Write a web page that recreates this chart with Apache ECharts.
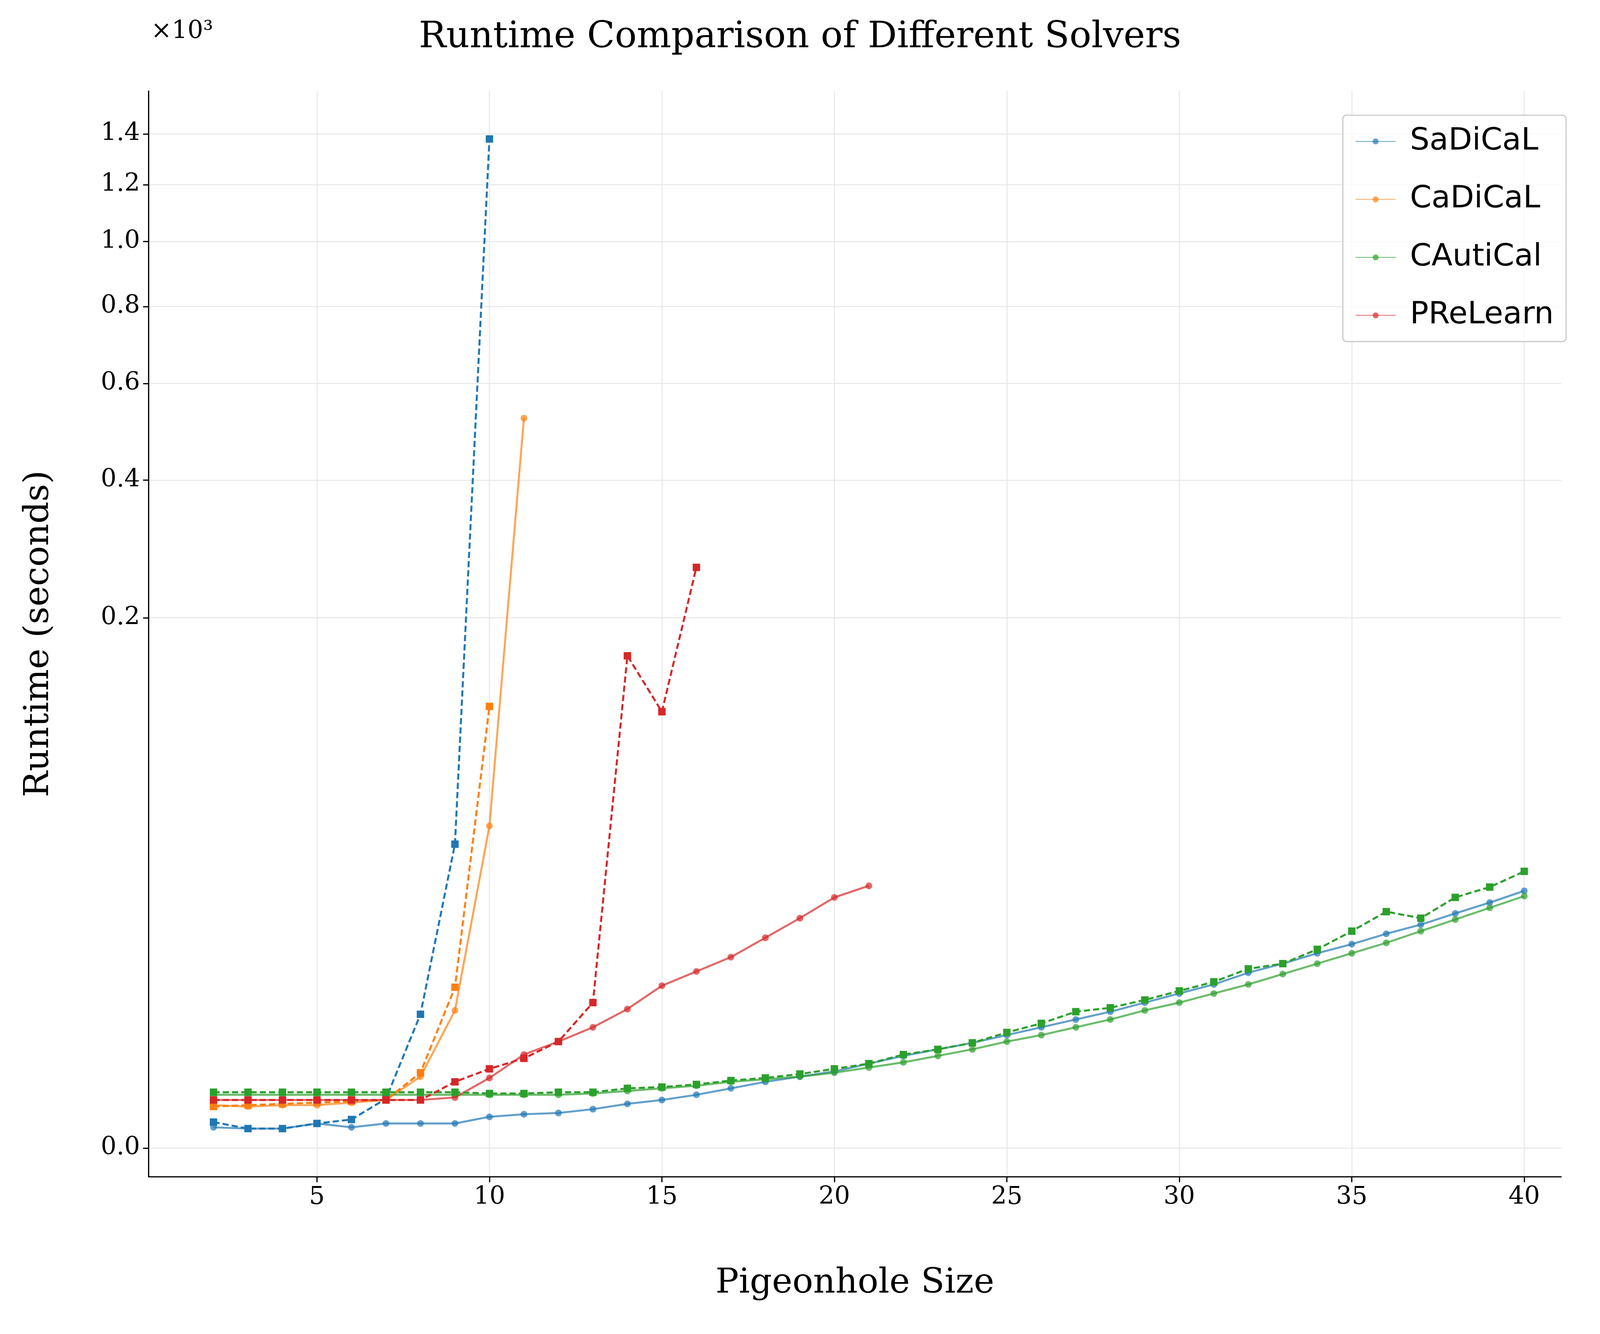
<!DOCTYPE html>
<html>
<head>
<meta charset="utf-8">
<script src="https://cdn.jsdelivr.net/npm/echarts@6/dist/echarts.min.js"></script>
<style>html,body{margin:0;padding:0;background:#fff;overflow:hidden}#main{width:100vw;height:100vh}</style>
</head>
<body>
<div id="main"></div>
<script>
// runtimes in seconds (pigeonhole size starts at 2)
const sadicalSolid = [0.012, 0.0099, 0.0099, 0.020, 0.012, 0.020, 0.020, 0.020, 0.041, 0.052, 0.058, 0.079, 0.116, 0.149, 0.203, 0.286, 0.390, 0.489, 0.604, 0.808, 1.052, 1.291, 1.563, 1.936, 2.365, 2.853, 3.404, 4.131, 4.955, 5.882, 7.235, 8.42, 9.92, 11.38, 13.21, 14.96, 17.34, 19.85, 22.83];
const sadicalDash = [0.0235, 0.0099, 0.0099, 0.020, 0.0313, 0.161, 3.213, 37.68, 1379];
const cadicalSolid = [0.106, 0.096, 0.106, 0.106, 0.126, 0.149, 0.489, 3.50, 44.85, 522];
const cadicalDash = [0.096, 0.106, 0.116, 0.126, 0.137, 0.149, 0.574, 5.58, 115.6];
const cauticalSolid = [0.203, 0.203, 0.203, 0.203, 0.203, 0.203, 0.203, 0.203, 0.203, 0.203, 0.203, 0.218, 0.250, 0.286, 0.325, 0.390, 0.438, 0.489, 0.574, 0.701, 0.845, 1.052, 1.291, 1.621, 1.936, 2.365, 2.853, 3.502, 4.131, 4.955, 5.882, 7.075, 8.419, 9.924, 11.60, 13.70, 16.03, 18.62, 21.47];
const cauticalDash = [0.234, 0.234, 0.234, 0.234, 0.234, 0.234, 0.234, 0.234, 0.218, 0.218, 0.234, 0.234, 0.286, 0.305, 0.346, 0.413, 0.463, 0.545, 0.667, 0.808, 1.097, 1.291, 1.563, 2.073, 2.602, 3.404, 3.704, 4.357, 5.209, 6.167, 7.728, 8.419, 10.53, 13.70, 17.73, 16.31, 21.14, 23.86, 28.43];
const prelearnSolid = [0.149, 0.149, 0.149, 0.149, 0.149, 0.149, 0.149, 0.174, 0.463, 1.097, 1.621, 2.365, 3.603, 5.744, 7.396, 9.34, 12.49, 16.31, 21.14, 24.21];
const prelearnDash = [0.149, 0.149, 0.149, 0.149, 0.149, 0.149, 0.149, 0.390, 0.667, 0.969, 1.621, 4.131, 160.1, 111.5, 262.8];

const yTicks = [0, 200, 400, 600, 800, 1000, 1200, 1400];
const xTicks = [5, 10, 15, 20, 25, 30, 35, 40];

const colors = ['#1f77b4', '#ff7f0e', '#2ca02c', '#d62728'];
const serif = 'DejaVu Serif';

// everything is laid out for 5188x3416 and scaled to the real window
const W = window.innerWidth, H = window.innerHeight;
const s = W / 5188, sy = H / 3416;
const px = (v) => v * s;

// y axis is cube-root scaled
const toData = (vals) => vals.map((v, i) => [i + 2, Math.cbrt(v)]);

function makeSeries(name, vals, color, dashed) {
  return {
    name: name,
    type: 'line',
    data: toData(vals),
    symbol: dashed ? 'rect' : 'circle',
    symbolSize: px(dashed ? 24 : 22),
    z: dashed ? 3 : 2,
    itemStyle: { color: color, opacity: dashed ? 1 : 0.7 },
    lineStyle: { color: color, width: px(6.5), type: dashed ? [px(20), px(10)] : 'solid', opacity: dashed ? 1 : 0.7 },
    emphasis: { disabled: true },
    animation: false
  };
}

const chart = echarts.init(document.getElementById('main'));
chart.setOption({
  backgroundColor: '#fff',
  animation: false,
  title: {
    text: 'Runtime Comparison of Different Solvers',
    left: 'center', top: 45 * sy,
    textStyle: { fontFamily: serif, fontSize: px(118), fontWeight: 'normal', color: '#000' }
  },
  graphic: [{
    type: 'text', left: px(490), top: 50 * sy,
    style: { text: '×10³', font: px(80) + 'px "DejaVu Serif"', fill: '#000' }
  }],
  legend: {
    data: ['SaDiCaL', 'CaDiCaL', 'CAutiCal', 'PReLearn'],
    orient: 'vertical', right: px(110), top: 295 * sy,
    padding: [px(35), px(40), px(35), px(40)],
    itemGap: px(88), itemWidth: px(130), itemHeight: px(24),
    backgroundColor: 'rgba(255,255,255,0.8)', borderColor: '#ccc', borderWidth: px(4), borderRadius: px(12),
    textStyle: { fontFamily: 'DejaVu Sans', fontSize: px(100), color: '#000', padding: [0, 0, 0, px(40)] }
  },
  grid: { left: px(482), right: px(126), top: 233 * sy, bottom: 403 * sy },
  xAxis: {
    type: 'value', min: 0.12, max: 41.07,
    name: 'Pigeonhole Size', nameLocation: 'middle', nameGap: 230 * sy,
    nameTextStyle: { fontFamily: serif, fontSize: px(112), color: '#000' },
    axisLine: { onZero: false, lineStyle: { color: '#000', width: px(4) } },
    axisTick: { customValues: xTicks, length: px(18), lineStyle: { color: '#000', width: px(4) } },
    axisLabel: { customValues: xTicks, fontFamily: serif, fontSize: px(80), color: '#000', margin: px(28) },
    splitLine: { show: true, lineStyle: { color: '#e6e6e6', width: px(3) } }
  },
  yAxis: {
    type: 'value', min: -0.315, max: 11.66,
    name: 'Runtime (seconds)', nameLocation: 'middle', nameGap: px(300),
    nameTextStyle: { fontFamily: serif, fontSize: px(112), color: '#000' },
    axisLine: { show: true, lineStyle: { color: '#000', width: px(4) } },
    axisTick: { customValues: yTicks.map(Math.cbrt), length: px(18), lineStyle: { color: '#000', width: px(4) } },
    axisLabel: {
      customValues: yTicks.map(Math.cbrt), fontFamily: serif, fontSize: px(80), color: '#000', margin: px(28),
      formatter: (v) => (Math.round(Math.pow(v, 3)) / 1000).toFixed(1)
    },
    splitLine: { show: true, lineStyle: { color: '#e6e6e6', width: px(3) } }
  },
  series: [
    makeSeries('SaDiCaL', sadicalSolid, colors[0], false),
    makeSeries('CaDiCaL', cadicalSolid, colors[1], false),
    makeSeries('CAutiCal', cauticalSolid, colors[2], false),
    makeSeries('PReLearn', prelearnSolid, colors[3], false),
    makeSeries('SaDiCaL ', sadicalDash, colors[0], true),
    makeSeries('CaDiCaL ', cadicalDash, colors[1], true),
    makeSeries('CAutiCal ', cauticalDash, colors[2], true),
    makeSeries('PReLearn ', prelearnDash, colors[3], true)
  ]
});
</script>
</body>
</html>
